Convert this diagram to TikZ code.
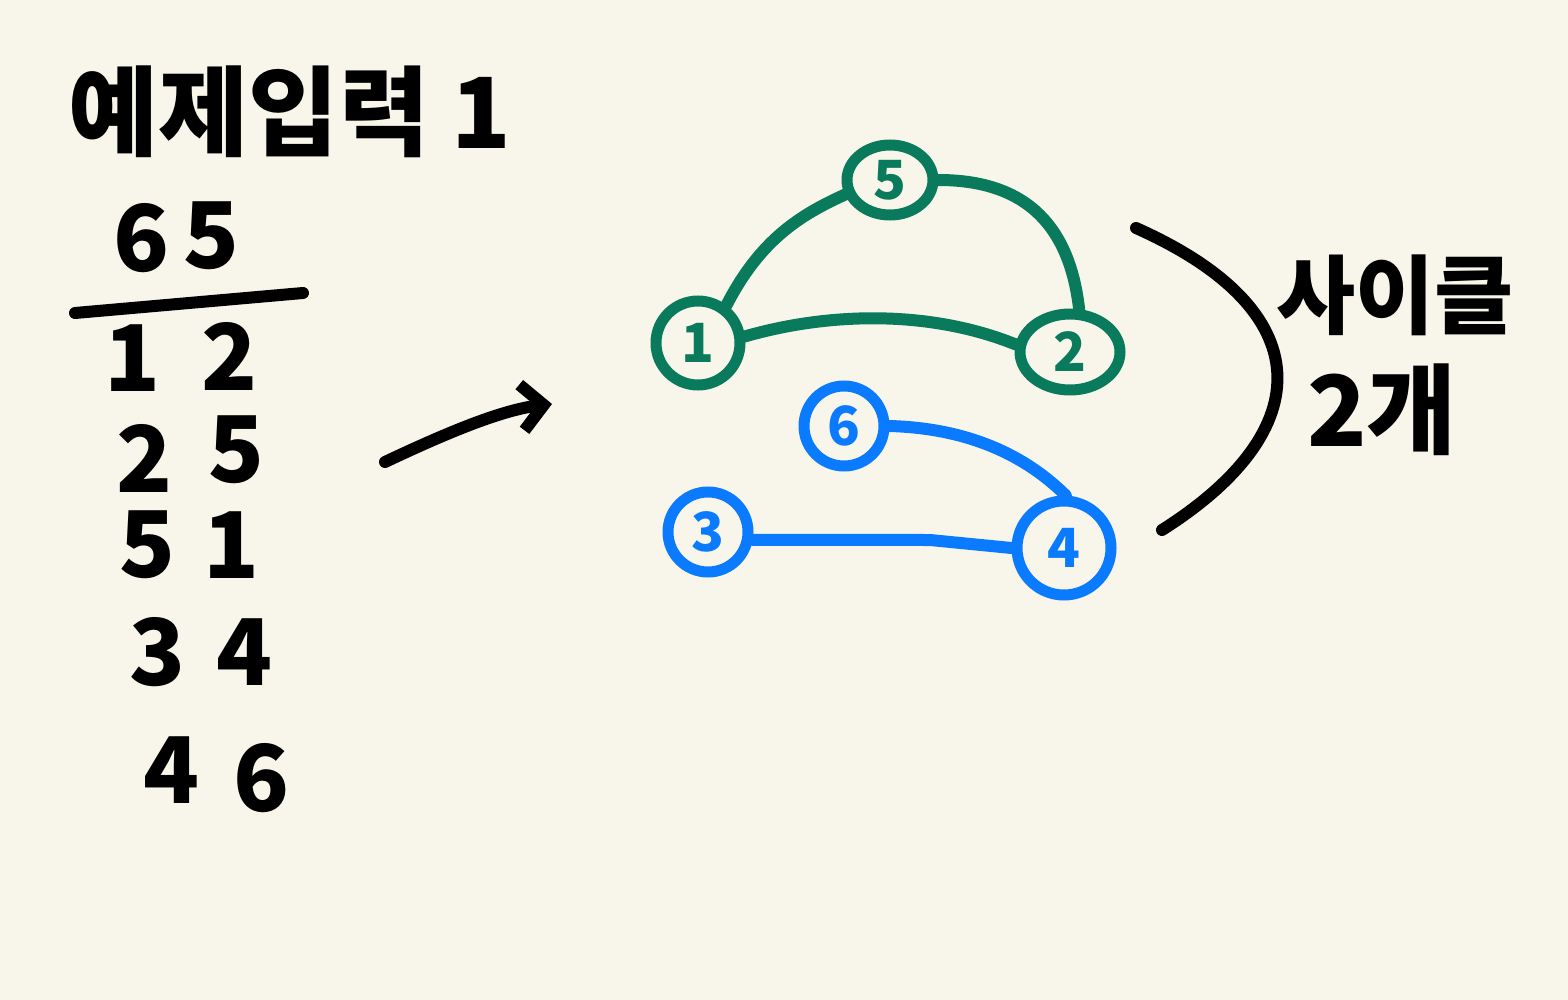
\documentclass[tikz,border=0pt]{standalone}
\usepackage{fontspec}
\setmainfont{Noto Sans CJK KR}
\usetikzlibrary{shapes.geometric,arrows.meta}
\definecolor{bg}{HTML}{F8F6EA}
\definecolor{gr}{HTML}{0A7A5C}
\definecolor{bl}{HTML}{0A7AFF}
\tikzset{
  ink/.style={line width=12pt,line cap=round,line join=round},
  big/.style={font=\fontsize{92}{92}\selectfont\bfseries,inner sep=0pt},
  head/.style={font=\fontsize{98}{98}\selectfont\bfseries,inner sep=0pt},
  res/.style={font=\fontsize{86}{86}\selectfont\bfseries,inner sep=0pt},
  vtx/.style={ellipse,draw,line width=11pt,inner sep=0pt,font=\fontsize{54}{54}\selectfont\bfseries},
  gv/.style={vtx,gr,text=gr},
  bv/.style={vtx,bl,text=bl},
}
\begin{document}
\begin{tikzpicture}[x=1pt,y=-1pt]
\fill[bg] (0,0) rectangle (1568,1000);
\useasboundingbox (0,0) rectangle (1568,1000);
% title
\node[head] (title) at (290,112) {예제입력 1};
% input numbers
\node[big] (a1) at (142,238) {6};
\node[big] (a2) at (212,236) {5};
\draw[ink] (75,313) -- (303,293);
\node[big] (b1) at (133,358) {1};
\node[big] (b2) at (230,356) {2};
\node[big] (c1) at (145,458) {2};
\node[big] (c2) at (237,450) {5};
\node[big] (d1) at (148,545) {5};
\node[big] (d2) at (232,545) {1};
\node[big] (e1) at (158,652) {3};
\node[big] (e2) at (245,652) {4};
\node[big] (f1) at (172,770) {4};
\node[big] (f2) at (262,778) {6};
% arrow
\coordinate (ar0) at (385,462);
\coordinate (ar1) at (552,404);
\draw[ink,-{Straight Barb[length=22pt,width=46pt,line width=12pt]}] (ar0) .. controls (440,436) and (500,410) .. (ar1);
% graph nodes
\node[gv,minimum width=86pt,minimum height=70pt] (n5) at (890,180) {5};
\node[gv,minimum width=84pt,minimum height=84pt] (n1) at (698,343) {1};
\node[gv,minimum width=100pt,minimum height=76pt] (n2) at (1070,352) {2};
\node[bv,minimum width=80pt,minimum height=80pt] (n6) at (844,426) {6};
\node[bv,minimum width=80pt,minimum height=80pt] (n3) at (708,532) {3};
\node[bv,minimum width=94pt,minimum height=94pt] (n4) at (1064,548) {4};
% edges
\draw[ink,gr] (n1.53) .. controls (760,240) and (800,215) .. (n5.198);
\draw[ink,gr] (n5.0) .. controls (1030,180) and (1070,230) .. (n2.78);
\draw[ink,gr] (n1.8) .. controls (830,312) and (930,310) .. (n2.172);
\draw[ink,bl] (n6.0) .. controls (960,428) and (1020,450) .. (n4.88);
\draw[ink,bl] (n3.-10) -- (930,540) -- (n4.180);
% bracket
\coordinate (br0) at (1136,228);
\coordinate (br1) at (1162,530);
\draw[ink] (br0) .. controls (1320,310) and (1320,430) .. (br1);
% result
\node[res] (res1) at (1395,295) {사이클};
\node[head] (res2) at (1382,410) {2개};
\end{tikzpicture}
\end{document}
